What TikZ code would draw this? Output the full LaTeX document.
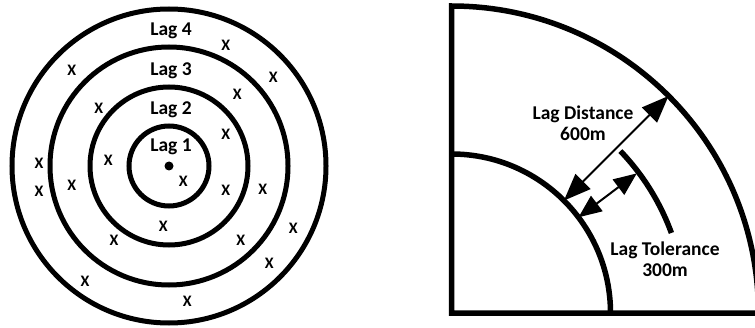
\documentclass[tikz,border=0pt]{standalone}
\usepackage{fontspec}
\setmainfont{Carlito}
\usetikzlibrary{arrows.meta,calc}
\tikzset{
  ring/.style={line width=5pt},
  frame/.style={line width=5.5pt},
  lbl/.style={font=\fontsize{19.5}{20.5}\selectfont\bfseries, inner sep=0pt, align=center},
  xm/.style={font=\fontsize{16}{18}\selectfont\bfseries, inner sep=0pt},
  dimarrow/.style={line width=2pt, {Triangle[length=27pt,width=21pt]}-{Triangle[length=27pt,width=21pt]}},
  tolarrow/.style={line width=2pt, {Triangle[length=23pt,width=19pt]}-{Triangle[length=23pt,width=19pt]}}
}
\begin{document}
\begin{tikzpicture}[x=1pt,y=1pt]
\clip (0,0) rectangle (755,327);
\fill[white] (0,0) rectangle (755,327);
% ---- left: concentric lags
\coordinate (O) at (169,161);
\draw[ring] (O) circle (40pt);
\draw[ring] (O) circle (79pt);
\draw[ring] (O) circle (119pt);
\draw[ring] (O) circle (157pt);
\fill (O) circle (4.5pt);
\node[lbl] (l4) at (171,296) {Lag 4};
\node[lbl] (l3) at (171,256) {Lag 3};
\node[lbl] (l2) at (171,217) {Lag 2};
\node[lbl] (l1) at (171,180) {Lag 1};
\foreach \px/\py [count=\i] in {225.7/45, 71.7/70.7, 273.3/77.7, 237.3/94.3, 98.7/108.3,
  225.7/134.3, 108.3/160, 39/163.3, 183.3/181.7, 71.7/185, 39/191.7, 225.7/190.7,
  262.7/189, 163.3/226, 293.3/228.3, 114/240.7, 240.7/240.7, 269.3/263.3, 85/281, 187.3/301.7}
  \node[xm] (x\i) at (\px,327-\py) {X};
% ---- right: lag distance / tolerance
\coordinate (C) at (451.5,14);
\draw[frame] (760,14) -- (C) -- (451.5,321) arc[start angle=90, end angle=4, radius=307pt];
\draw[frame] (451.5,173) arc[start angle=90, end angle=0, radius=159pt];
\draw[frame] ([shift={(C)}]43.8:234pt) arc[start angle=43.8, end angle=20, radius=234pt];
\coordinate (di) at ([shift={(C)}]45:159pt);
\coordinate (do) at ([shift={(C)}]45:307pt);
\coordinate (ti) at ([shift={(C)}]37:159pt);
\coordinate (to) at ([shift={(C)}]37:232pt);
\draw[dimarrow] (di) -- (do);
\draw[tolarrow] (ti) -- (to);
\node[lbl] (dist) at (583,204) {Lag Distance\\600m};
\node[lbl] (tol) at (665,68) {Lag Tolerance\\300m};
\end{tikzpicture}
\end{document}
